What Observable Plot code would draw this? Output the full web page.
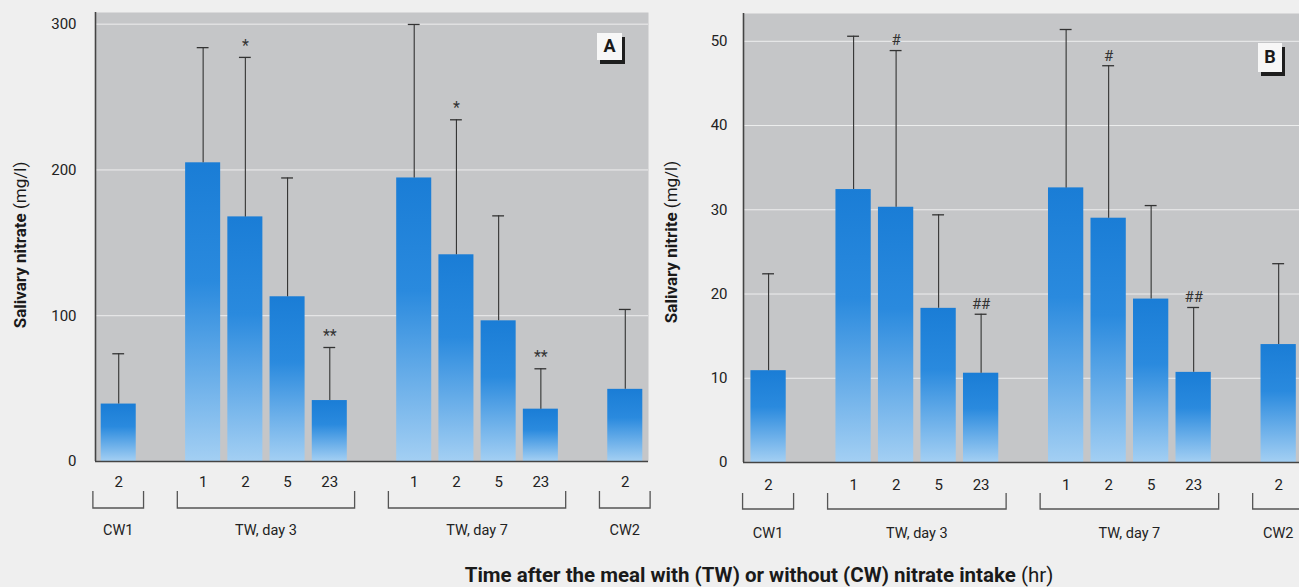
<!DOCTYPE html>
<html>
<head>
<meta charset="utf-8">
<script src="https://cdn.jsdelivr.net/npm/d3@7"></script>
<script src="https://cdn.jsdelivr.net/npm/@observablehq/plot@0.6"></script>
<style>
  html, body { margin: 0; padding: 0; background: #efefef; }
  #wrap { position: relative; width: 1299px; height: 587px; overflow: hidden;
          font-family: Roboto, "Liberation Sans", sans-serif; color: #222; }
  #panelA { position: absolute; left: 0; top: 0; }
  #panelB { position: absolute; left: 660px; top: 0; }
  #xtitle { position: absolute; left: 0; width: 1518px; top: 565px; height: 20px; line-height: 20px;
            text-align: center; font-size: 20.5px; color: #1a1a1a; white-space: nowrap; }
  #xtitle b { font-weight: bold; }
</style>
</head>
<body>
<div id="wrap">
  <div id="panelA"></div>
  <div id="panelB"></div>
  <div id="xtitle"><b>Time after the meal with (TW) or without (CW) nitrate intake</b> (hr)</div>
</div>
<script>
// ---------- data ----------
const slots = [0, 2, 3, 4, 5, 7, 8, 9, 10, 12];
const hourLabels = ["2", "1", "2", "5", "23", "1", "2", "5", "23", "2"];
const groupNames = ["CW1", "TW, day 3", "TW, day 7", "CW2"];
const groupFirst = [0, 2, 7, 12];
const groupLast = [0, 5, 10, 12];

const nitrateMean  = [39.4, 204.9, 167.8, 113.0, 41.8, 194.5, 141.8, 96.5, 35.9, 49.5];
const nitrateUpper = [73.9, 283.9, 277.2, 194.5, 78.2, 299.8, 234.4, 168.5, 63.6, 104.3];
const nitrateSig   = ["", "", "*", "", "**", "", "*", "", "**", ""];

const nitriteMean  = [10.9, 32.4, 30.3, 18.3, 10.6, 32.6, 29.0, 19.4, 10.7, 14.0];
const nitriteUpper = [22.4, 50.6, 48.9, 29.4, 17.6, 51.4, 47.1, 30.5, 18.4, 23.6];
const nitriteSig   = ["", "", "#", "", "##", "", "#", "", "##", ""];

const nitrateTicks = [0, 100, 200, 300];
const nitriteTicks = [0, 10, 20, 30, 40, 50];

const FONT = "Roboto, 'Liberation Sans', sans-serif";

function rowsOf(mean, upper, sig) {
  return slots.map((s, i) => ({slot: s, label: hourLabels[i], mean: mean[i], upper: upper[i], sig: sig[i]}));
}
const groups = groupNames.map((n, i) => ({name: n, first: groupFirst[i], last: groupLast[i]}));

function makePanel(cfg) {
  const rows = rowsOf(cfg.mean, cfg.upper, cfg.sig);
  const xmin = cfg.xDomain[0];
  const gradId = "grad" + cfg.letter;

  const defsMark = () => {
    const defs = d3.create("svg:defs");
    const lg = defs.append("linearGradient").attr("id", gradId)
      .attr("x1", 0).attr("y1", 0).attr("x2", 0).attr("y2", 1);
    lg.append("stop").attr("offset", "0%").attr("stop-color", "#1a7dd6");
    lg.append("stop").attr("offset", "40%").attr("stop-color", "#2a8ade");
    lg.append("stop").attr("offset", "100%").attr("stop-color", "#a3cff3");
    return defs.node();
  };

  const decorations = (index, scales, values, dims) => {
    const g = d3.create("svg:g").attr("font-family", FONT);
    const x = scales.x, y = scales.y;
    const y0 = y(0);
    // group brackets and names
    groups.forEach(gr => {
      const x1 = x(gr.first - 0.6), x2 = x(gr.last + 0.6);
      g.append("path")
        .attr("d", `M${x1},${y0 + cfg.bracketTop}V${y0 + cfg.bracketBottom}H${x2}V${y0 + cfg.bracketTop}`)
        .attr("fill", "none").attr("stroke", "#555").attr("stroke-width", 1.3);
      g.append("text")
        .attr("x", (x1 + x2) / 2).attr("y", y0 + cfg.groupLabelDy)
        .attr("text-anchor", "middle").attr("dominant-baseline", "middle")
        .attr("font-size", 14.5).attr("fill", "#222").text(gr.name);
    });
    // y-axis title
    const t = g.append("text")
      .attr("transform", `translate(${cfg.titleX},${cfg.titleY}) rotate(-90)`)
      .attr("text-anchor", "middle").attr("dominant-baseline", "middle")
      .attr("font-size", 17).attr("fill", "#1a1a1a");
    t.append("tspan").attr("font-weight", "bold").text(cfg.title);
    t.append("tspan").text(" (mg/l)");
    // panel letter box
    const bx = dims.width - dims.marginRight - cfg.boxRight - cfg.boxW;
    const by = dims.marginTop + cfg.boxTop;
    g.append("rect").attr("x", bx + 3).attr("y", by + 4).attr("width", cfg.boxW).attr("height", cfg.boxH).attr("fill", "#1e1e1e");
    g.append("rect").attr("x", bx).attr("y", by).attr("width", cfg.boxW).attr("height", cfg.boxH).attr("fill", "#f7f7f7");
    g.append("text").attr("x", bx + cfg.boxW / 2).attr("y", by + cfg.boxH / 2 + 1)
      .attr("text-anchor", "middle").attr("dominant-baseline", "middle")
      .attr("font-size", 18).attr("font-weight", "bold").attr("fill", "#1a1a1a")
      .text(cfg.letter);
    return g.node();
  };

  return Plot.plot({
    width: cfg.width, height: 560,
    marginLeft: cfg.marginLeft, marginRight: cfg.marginRight,
    marginTop: cfg.marginTop, marginBottom: cfg.marginBottom,
    style: {background: "transparent", fontFamily: FONT, fontSize: "15px", color: "#222", overflow: "visible"},
    x: {type: "linear", domain: cfg.xDomain, axis: null},
    y: {domain: cfg.yDomain, axis: null},
    marks: [
      defsMark,
      Plot.frame({fill: "#c5c6c8", stroke: "none"}),
      Plot.gridY({ticks: cfg.ticks.filter(d => d > 0), stroke: "#ffffff", strokeOpacity: 0.7, strokeWidth: 1}),
      Plot.axisY({ticks: cfg.ticks, tickSize: 0, tickPadding: cfg.yTickPad, label: null, tickFormat: d => String(d)}),
      Plot.axisX({ticks: slots, tickSize: 0, tickPadding: cfg.xTickPad, label: null,
                  tickFormat: d => hourLabels[slots.indexOf(d)]}),
      Plot.rectY(rows, {x1: d => d.slot - 0.415, x2: d => d.slot + 0.415, y1: 0, y2: "mean", fill: `url(#${gradId})`}),
      Plot.ruleX(rows, {x: "slot", y1: "mean", y2: "upper", stroke: "#333", strokeWidth: 1.1}),
      Plot.ruleY(rows, {y: "upper", x1: d => d.slot - 0.14, x2: d => d.slot + 0.14, stroke: "#333", strokeWidth: 1.3}),
      Plot.text(rows, {x: "slot", y: "upper", text: "sig", dy: cfg.sigDy, fontSize: cfg.sigSize, fill: "#333"}),
      Plot.ruleY([0], {stroke: "#444", strokeWidth: 1.6}),
      Plot.ruleX([xmin], {stroke: "#444", strokeWidth: 1.6}),
      decorations
    ]
  });
}

const panelA = makePanel({
  letter: "A", title: "Salivary nitrate",
  mean: nitrateMean, upper: nitrateUpper, sig: nitrateSig, ticks: nitrateTicks,
  width: 660, marginLeft: 95, marginRight: 12, marginTop: 12, marginBottom: 99,
  xDomain: [-0.55, 12.55], yDomain: [0, 308],
  yTickPad: 19, xTickPad: 15, sigDy: -12, sigSize: 16,
  bracketTop: 30, bracketBottom: 47, groupLabelDy: 70,
  titleX: 22, titleY: 245,
  boxRight: 26, boxTop: 21, boxW: 25, boxH: 27
});
document.getElementById("panelA").appendChild(panelA);

const panelB = makePanel({
  letter: "B", title: "Salivary nitrite",
  mean: nitriteMean, upper: nitriteUpper, sig: nitriteSig, ticks: nitriteTicks,
  width: 639, marginLeft: 83, marginRight: 0, marginTop: 13, marginBottom: 98,
  xDomain: [-0.59, 12.49], yDomain: [0, 53.3],
  yTickPad: 16, xTickPad: 17, sigDy: -10, sigSize: 15,
  bracketTop: 31, bracketBottom: 47, groupLabelDy: 72,
  titleX: 13, titleY: 242,
  boxRight: 17, boxTop: 30, boxW: 24, boxH: 29
});
document.getElementById("panelB").appendChild(panelB);
</script>
</body>
</html>
